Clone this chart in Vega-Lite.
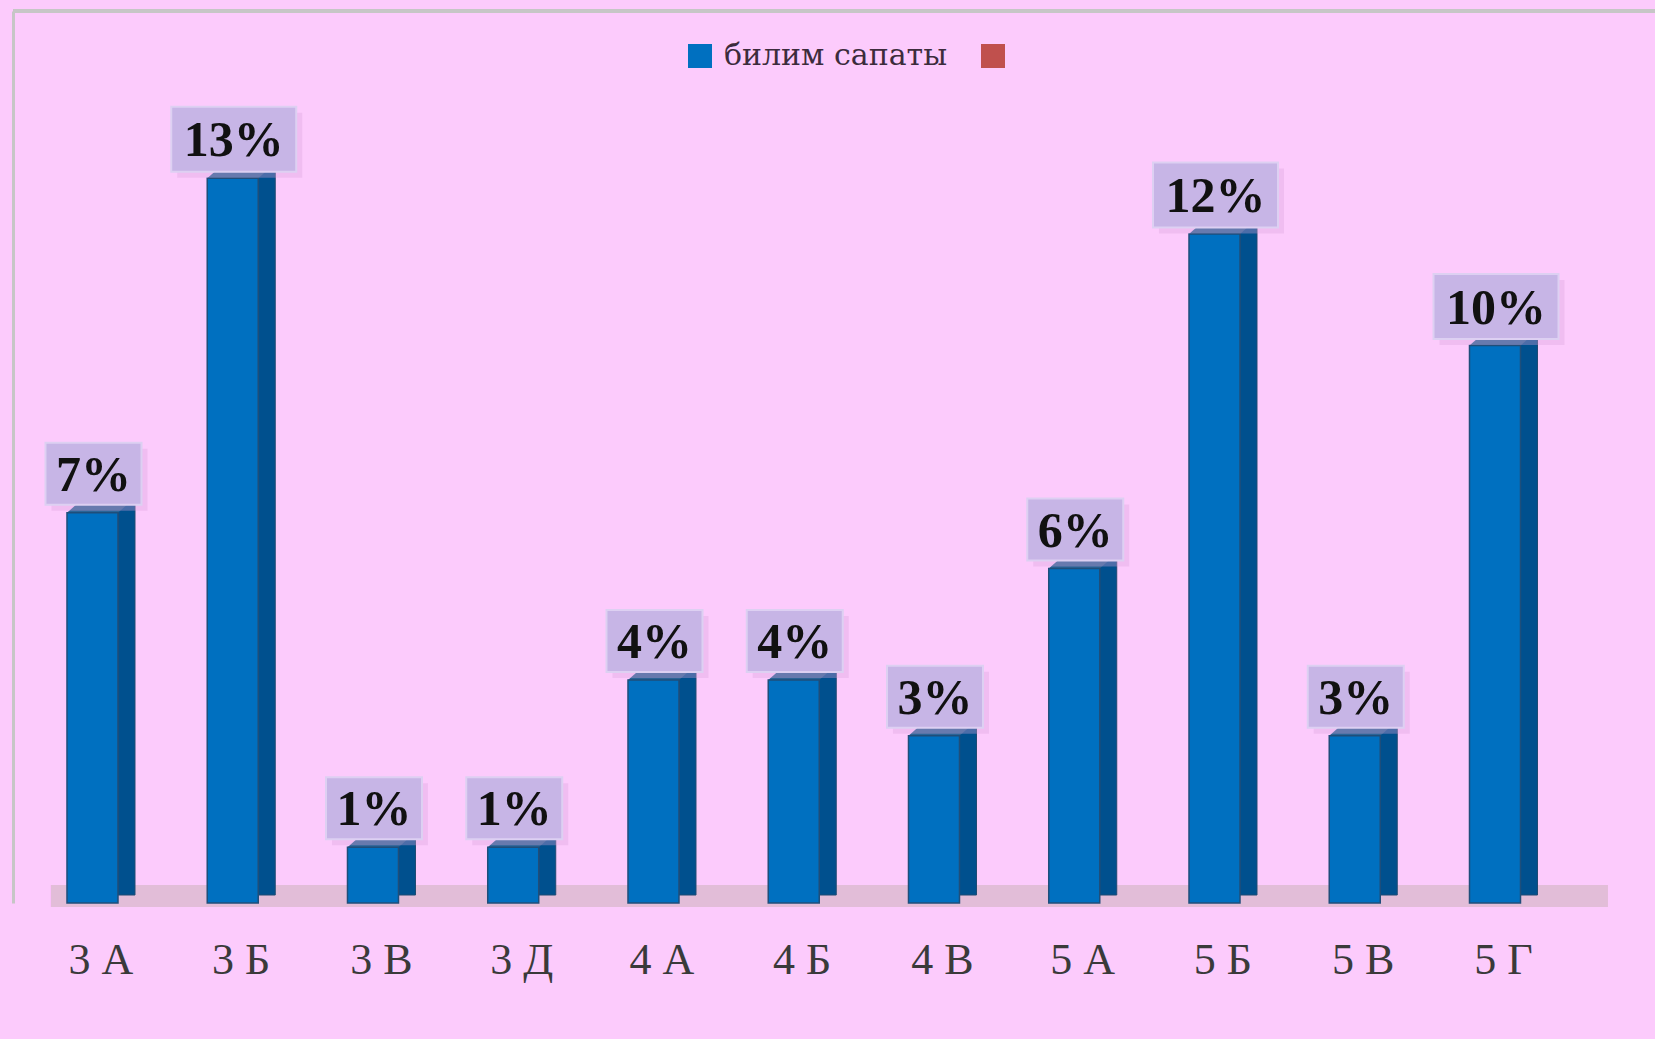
{
  "$schema": "https://vega.github.io/schema/vega-lite/v6.json",
  "width": 1642,
  "height": 892,
  "autosize": {"type": "none"},
  "padding": {"left": 13, "top": 11, "right": 0, "bottom": 136},
  "background": "#FCCBFC",
  "config": {"view": {"stroke": null}, "font": "Liberation Serif"},
  "data": {
    "values": [
      {"class": "3 А", "value": 7, "label": "7%"},
      {"class": "3 Б", "value": 13, "label": "13%"},
      {"class": "3 В", "value": 1, "label": "1%"},
      {"class": "3 Д", "value": 1, "label": "1%"},
      {"class": "4 А", "value": 4, "label": "4%"},
      {"class": "4 Б", "value": 4, "label": "4%"},
      {"class": "4 В", "value": 3, "label": "3%"},
      {"class": "5 А", "value": 6, "label": "6%"},
      {"class": "5 Б", "value": 12, "label": "12%"},
      {"class": "5 В", "value": 3, "label": "3%"},
      {"class": "5 Г", "value": 10, "label": "10%"}
    ]
  },
  "layer": [
    {
      "mark": {"type": "rule", "color": "#E2BDD8", "strokeWidth": 22, "yOffset": -7, "xOffset": -50, "x2Offset": 104, "strokeCap": "butt"},
      "encoding": {
        "x": {
          "datum": "3 А", "type": "nominal",
          "scale": {"domain": ["3 А", "3 Б", "3 В", "3 Д", "4 А", "4 Б", "4 В", "5 А", "5 Б", "5 В", "5 Г"], "paddingInner": 0, "paddingOuter": 0.3538, "align": 0.18},
          "axis": {"title": null, "domain": false, "ticks": false, "grid": false, "labelAngle": 0, "labelAlign": "center", "labelBaseline": "alphabetic", "labelFont": "Liberation Serif", "labelFontSize": 44, "labelColor": "#3A3A3A", "labelPadding": 70}
        },
        "x2": {"datum": "5 Г"},
        "y": {
          "datum": 0, "type": "quantitative",
          "scale": {"domain": [0, 16], "nice": false},
          "axis": {"title": null, "labels": false, "ticks": false, "grid": false, "domain": true, "domainColor": "#C6C6C6", "domainWidth": 3}
        }
      }
    },
    {
      "mark": {"type": "rule", "color": "#C6C6C6", "strokeWidth": 3},
      "encoding": {"y": {"datum": 16, "type": "quantitative"}}
    },
    {
      "mark": {"type": "bar", "width": 17, "xOffset": 25.5, "yOffset": -15, "y2Offset": -8, "color": "#00508E", "stroke": "#1F4A73", "strokeWidth": 1},
      "encoding": {
        "x": {"field": "class", "type": "nominal", "sort": null},
        "y": {"field": "value", "type": "quantitative"},
        "y2": {"datum": 0}
      }
    },
    {
      "mark": {"type": "point", "shape": "M-1,0L0.5,0L1,-0.441L-0.5,-0.441Z", "size": 4624, "filled": true, "color": "#2A6496", "opacity": 1, "strokeWidth": 0},
      "encoding": {
        "x": {"field": "class", "type": "nominal", "sort": null},
        "y": {"field": "value", "type": "quantitative"}
      }
    },
    {
      "mark": {"type": "bar", "width": 51, "xOffset": -8.5, "stroke": "#1F4E7A", "strokeWidth": 1.5},
      "encoding": {
        "x": {"field": "class", "type": "nominal", "sort": null},
        "y": {"field": "value", "type": "quantitative"},
        "y2": {"datum": 0},
        "color": {
          "datum": "билим сапаты", "type": "nominal",
          "scale": {"domain": ["билим сапаты", " "], "range": ["#0070C0", "#C0504D"]},
          "legend": {"title": null, "orient": "none", "legendX": 672, "legendY": 30, "direction": "horizontal", "symbolType": "square", "symbolSize": 576, "labelFont": "DejaVu Serif", "labelFontSize": 30, "labelColor": "#3C2C3C", "labelOffset": 9, "labelLimit": 600, "columnPadding": 30, "padding": 0, "symbolStrokeWidth": 0}
        }
      }
    },
    {
      "mark": {"type": "point", "filled": true, "xOffset": -1.5, "yOffset": -33, "color": "#D9A2DC", "opacity": 0.35, "strokeWidth": 0},
      "encoding": {
        "x": {"field": "class", "type": "nominal", "sort": null},
        "y": {"field": "value", "type": "quantitative"},
        "shape": {"condition": {"test": "datum.value >= 10", "value": "M-1,-0.52H1V0.52H-1Z"}, "value": "M-1,-0.646H1V0.646H-1Z"},
        "size": {"condition": {"test": "datum.value >= 10", "value": 15625}, "value": 9216}
      }
    },
    {
      "mark": {"type": "point", "filled": true, "opacity": 1, "xOffset": -7.5, "yOffset": -39, "color": "#C7B5E6", "stroke": "#DDD0F2", "strokeWidth": 2},
      "encoding": {
        "x": {"field": "class", "type": "nominal", "sort": null},
        "y": {"field": "value", "type": "quantitative"},
        "shape": {"condition": {"test": "datum.value >= 10", "value": "M-1,-0.52H1V0.52H-1Z"}, "value": "M-1,-0.646H1V0.646H-1Z"},
        "size": {"condition": {"test": "datum.value >= 10", "value": 15625}, "value": 9216}
      }
    },
    {
      "mark": {"type": "text", "font": "Liberation Serif", "fontWeight": "bold", "fontSize": 50, "color": "#111111", "xOffset": -7.5, "yOffset": -22, "baseline": "alphabetic", "align": "center"},
      "encoding": {
        "x": {"field": "class", "type": "nominal", "sort": null},
        "y": {"field": "value", "type": "quantitative"},
        "text": {"field": "label"}
      }
    }
  ]
}
